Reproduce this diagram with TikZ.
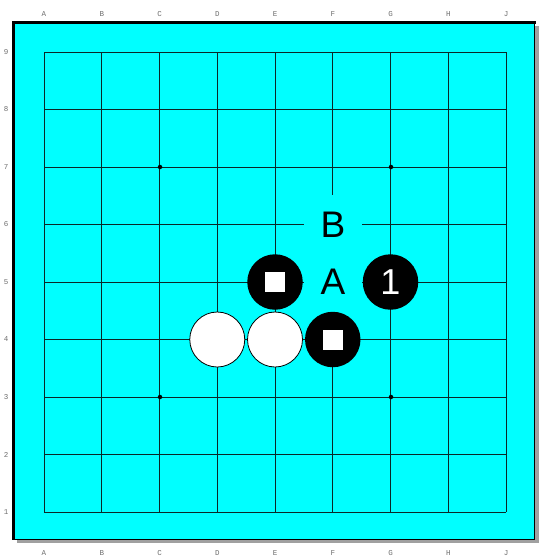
\documentclass[tikz,border=0pt]{standalone}
\usepackage{fontspec}
\setmainfont{Liberation Sans}
\newfontfamily\coordfont{Liberation Mono}
\definecolor{boardcyan}{RGB}{0,255,255}
\definecolor{shadowgray}{RGB}{160,160,160}
\definecolor{labelgray}{RGB}{110,110,110}
\definecolor{gridline}{RGB}{10,40,40}
\begin{document}
\begin{tikzpicture}[x=1pt,y=-1pt,
  coordlabel/.style={font=\coordfont\fontsize{7.5}{8}\selectfont, text=labelgray, inner sep=0pt},
  gridstroke/.style={draw=gridline, line width=1pt},
  blackstone/.style={circle, fill=black, minimum size=55.5pt, inner sep=0pt},
  whitestone/.style={circle, fill=white, draw=black, line width=0.8pt, minimum size=55pt, inner sep=0pt},
  sqmark/.style={fill=white, minimum size=20pt, inner sep=0pt},
  boardletter/.style={fill=boardcyan, minimum width=58pt, minimum height=59pt, inner sep=0pt, font=\fontsize{37}{40}\selectfont},
  stonenum/.style={text=white, inner sep=0pt, font=\fontsize{36}{40}\selectfont},
  starpt/.style={circle, fill=black, minimum size=4.5pt, inner sep=0pt}
]
\useasboundingbox (0,0) rectangle (551,557);
% shadow and board
\fill[shadowgray] (17,26) rectangle (538.5,543);
\fill[boardcyan] (14,22) rectangle (534.5,539.5);
\draw[black, line width=1.4pt] (14,22) rectangle (534.5,539.5);
\draw[black, line width=3pt] (13.5,539.5) -- (13.5,22) -- (535.5,22);
% grid
\foreach \i in {0,...,8} {
  \draw[gridstroke] ({44+57.75*\i},52) -- ({44+57.75*\i},512);
  \draw[gridstroke] (44,{52+57.5*\i}) -- (506,{52+57.5*\i});
}
% star points
\node[starpt] (s1) at (160,167) {};
\node[starpt] (s2) at (391,167) {};
\node[starpt] (s3) at (160,397) {};
\node[starpt] (s4) at (391,397) {};
% coordinate labels
\foreach \l [count=\i from 0] in {A,B,C,D,E,F,G,H,J} {
  \node[coordlabel] (top\l) at ({44+57.75*\i},14) {\l};
  \node[coordlabel] (bot\l) at ({44+57.75*\i},553) {\l};
}
\foreach \n [count=\i from 0] in {9,8,7,6,5,4,3,2,1} {
  \node[coordlabel] (row\n) at (6,{52+57.5*\i}) {\n};
}
% board letters
\node[boardletter] (lblB) at (333,224.5) {B};
\node[boardletter] (lblA) at (333,282) {A};
% stones
\node[whitestone] (D4) at (217.25,339.5) {};
\node[whitestone] (E4) at (275,339.5) {};
\node[blackstone] (E5) at (275,282) {};
\node[blackstone] (F4) at (332.75,339.5) {};
\node[blackstone] (G5) at (390.5,282) {};
\node[sqmark] (mE5) at (E5) {};
\node[sqmark] (mF4) at (F4) {};
\node[stonenum] (n1) at (G5) {1};
\end{tikzpicture}
\end{document}
